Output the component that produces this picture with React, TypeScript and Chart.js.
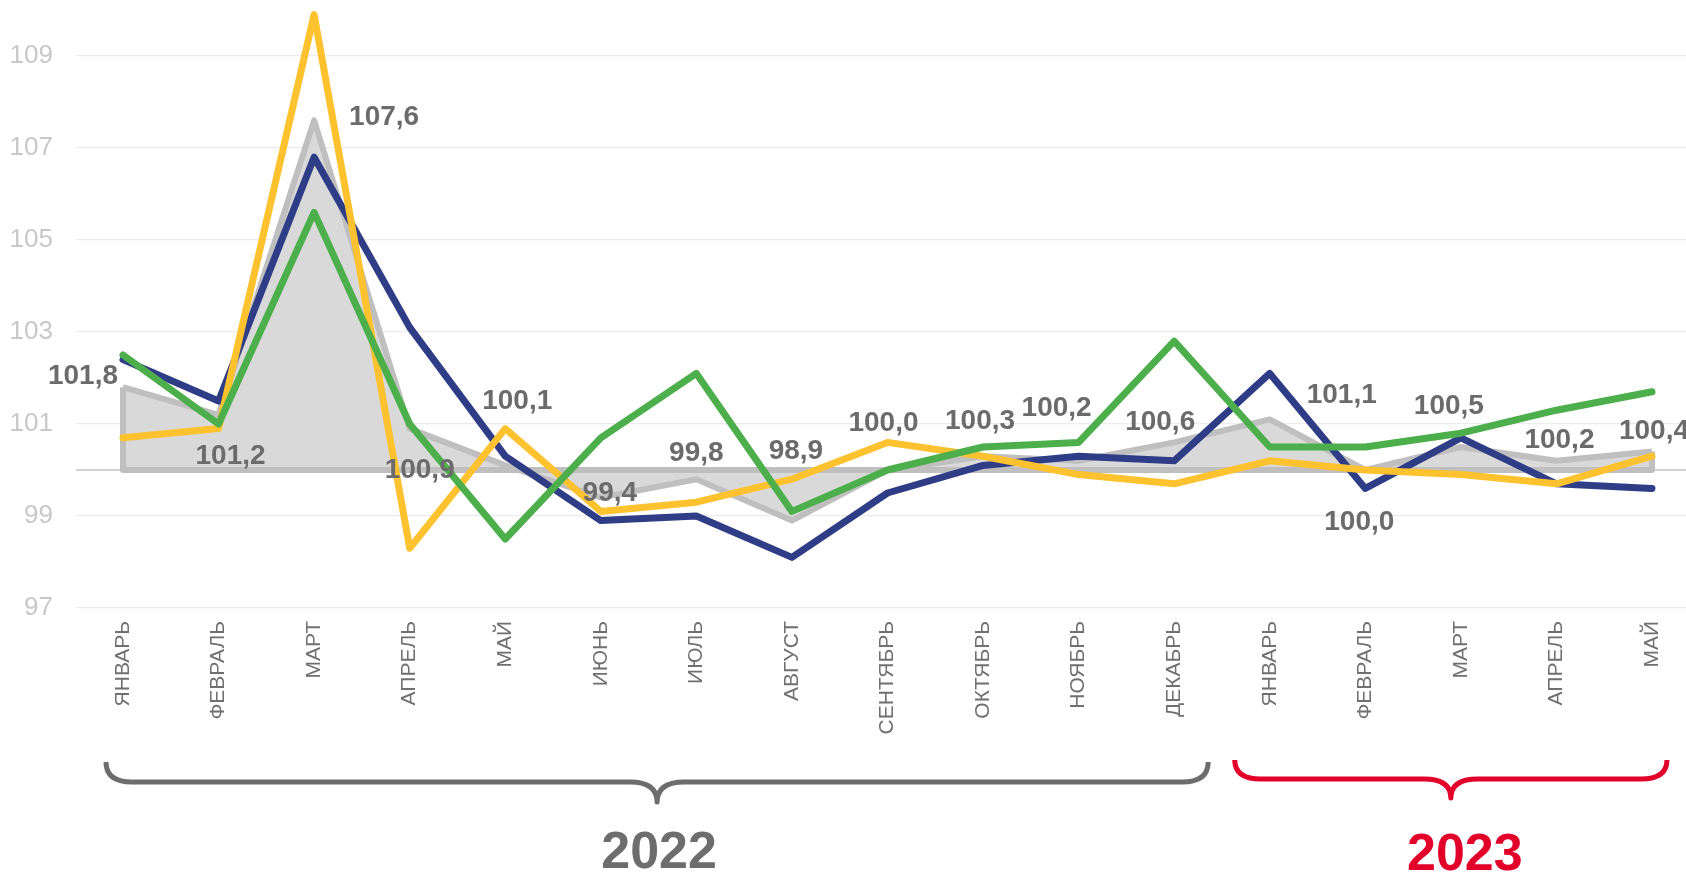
import React, { useEffect, useRef } from "react";
import { Chart, registerables } from "chart.js";

Chart.register(...registerables);

const months = [
  "ЯНВАРЬ", "ФЕВРАЛЬ", "МАРТ", "АПРЕЛЬ", "МАЙ", "ИЮНЬ", "ИЮЛЬ", "АВГУСТ",
  "СЕНТЯБРЬ", "ОКТЯБРЬ", "НОЯБРЬ", "ДЕКАБРЬ",
  "ЯНВАРЬ", "ФЕВРАЛЬ", "МАРТ", "АПРЕЛЬ", "МАЙ",
];

const grayValues = [101.8, 101.2, 107.6, 100.9, 100.1, 99.4, 99.8, 98.9, 100.0, 100.3, 100.2, 100.6, 101.1, 100.0, 100.5, 100.2, 100.4];
const navyValues = [102.4, 101.5, 106.8, 103.1, 100.3, 98.9, 99.0, 98.1, 99.5, 100.1, 100.3, 100.2, 102.1, 99.6, 100.7, 99.7, 99.6];
const yellowValues = [100.7, 100.9, 109.9, 98.3, 100.9, 99.1, 99.3, 99.8, 100.6, 100.3, 99.9, 99.7, 100.2, 100.0, 99.9, 99.7, 100.3];
const greenValues = [102.5, 101.0, 105.6, 101.0, 98.5, 100.7, 102.1, 99.1, 100.0, 100.5, 100.6, 102.8, 100.5, 100.5, 100.8, 101.3, 101.7];

const yTicks = [97, 99, 100, 101, 103, 105, 107, 109];
const baseValue = 100;

const years = [
  { label: "2022", from: 0, to: 11, color: "#6d6d6d" },
  { label: "2023", from: 12, to: 16, color: "#e2002b" },
];

// label placement offsets (px) of the value labels relative to the points
const labelOffsets: [number, number][] = [
  [-40, -13], [12, 39], [70, -5], [10, 39], [12, -66], [9, -7], [0, -28], [4, -72],
  [-4, -49], [-3, -37], [-22, -55], [-14, -22], [72, -26], [-6, 50], [-12, -43], [3, -23], [2, -23],
];

const W = 1686;
const H = 873;

const toXY = (arr: number[]) => arr.map((v, i) => ({ x: i, y: v }));

function drawBrace(ctx: CanvasRenderingContext2D, x1: number, x2: number, yTop: number, yLine: number, yTip: number, color: string) {
  const xm = (x1 + x2) / 2;
  const r = 26;
  const w = 27;
  ctx.save();
  ctx.strokeStyle = color;
  ctx.lineWidth = 5;
  ctx.lineJoin = "round";
  ctx.lineCap = "butt";
  ctx.beginPath();
  ctx.moveTo(x1, yTop);
  ctx.quadraticCurveTo(x1, yLine, x1 + r, yLine);
  ctx.lineTo(xm - w, yLine);
  ctx.quadraticCurveTo(xm, yLine, xm, yTip);
  ctx.quadraticCurveTo(xm, yLine, xm + w, yLine);
  ctx.lineTo(x2 - r, yLine);
  ctx.quadraticCurveTo(x2, yLine, x2, yTop);
  ctx.stroke();
  ctx.restore();
}

const areaBorderPlugin = {
  id: "areaBorder",
  afterDatasetDraw(chart: any, args: any) {
    if (args.index !== 0) return;
    const { ctx } = chart;
    const xs = chart.scales.x;
    const ys = chart.scales.y;
    const x0 = xs.getPixelForValue(0);
    const x1 = xs.getPixelForValue(grayValues.length - 1);
    const yb = ys.getPixelForValue(baseValue);
    ctx.save();
    ctx.strokeStyle = "#bfbfbf";
    ctx.lineWidth = 6;
    ctx.lineJoin = "round";
    ctx.beginPath();
    ctx.moveTo(x0, ys.getPixelForValue(grayValues[0]));
    ctx.lineTo(x0, yb);
    ctx.lineTo(x1, yb);
    ctx.lineTo(x1, ys.getPixelForValue(grayValues[grayValues.length - 1]));
    ctx.stroke();
    ctx.restore();
  },
};

const labelsPlugin = {
  id: "valueLabels",
  afterDatasetsDraw(chart: any) {
    const { ctx } = chart;
    const meta = chart.getDatasetMeta(0);
    ctx.save();
    ctx.font = "bold 28px 'Liberation Sans', Arial, sans-serif";
    ctx.fillStyle = "#6b6b6b";
    ctx.textAlign = "center";
    ctx.textBaseline = "alphabetic";
    meta.data.forEach((pt: any, i: number) => {
      const [dx, dy] = labelOffsets[i];
      const txt = grayValues[i].toFixed(1).replace(".", ",");
      ctx.fillText(txt, pt.x + dx, pt.y + dy + 10);
    });
    ctx.restore();
  },
  afterDraw(chart: any) {
    const { ctx } = chart;
    const xs = chart.scales.x;
    years.forEach((yr, k) => {
      const a = xs.getPixelForValue(yr.from);
      const b = xs.getPixelForValue(yr.to);
      const x1 = k === 0 ? a - 17 : a - 35;
      const x2 = k === 0 ? b + 34 : b + 15;
      const yTop = k === 0 ? 762 : 760;
      const yLine = k === 0 ? 782 : 779;
      const yTip = k === 0 ? 802 : 798;
      drawBrace(ctx, x1, x2, yTop, yLine, yTip, yr.color);
      ctx.save();
      ctx.font = "bold 52px 'Liberation Sans', Arial, sans-serif";
      ctx.fillStyle = yr.color;
      ctx.textAlign = "center";
      ctx.textBaseline = "alphabetic";
      const xm = (x1 + x2) / 2 + (k === 0 ? 2 : 14);
      ctx.fillText(yr.label, xm, k === 0 ? 868 : 870);
      ctx.restore();
    });
  },
};

export default function App() {
  const ref = useRef<HTMLCanvasElement | null>(null);

  useEffect(() => {
    if (!ref.current) return;
    const chart = new Chart(ref.current, {
      type: "line",
      data: {
        datasets: [
          {
            label: "gray",
            data: toXY(grayValues),
            borderColor: "#bfbfbf",
            backgroundColor: "#d9d9d9",
            borderWidth: 6,
            fill: { value: baseValue },
            pointRadius: 0,
            borderJoinStyle: "round",
            order: 3,
          },
          {
            label: "navy",
            data: toXY(navyValues),
            borderColor: "#2f3d86",
            borderWidth: 7,
            fill: false,
            pointRadius: 0,
            borderJoinStyle: "round",
            borderCapStyle: "round",
            order: 2,
          },
          {
            label: "yellow",
            data: toXY(yellowValues),
            borderColor: "#fdc22e",
            borderWidth: 7,
            fill: false,
            pointRadius: 0,
            borderJoinStyle: "round",
            borderCapStyle: "round",
            order: 1,
          },
          {
            label: "green",
            data: toXY(greenValues),
            borderColor: "#4caf4c",
            borderWidth: 7,
            fill: false,
            pointRadius: 0,
            borderJoinStyle: "round",
            borderCapStyle: "round",
            order: 0,
          },
        ],
      },
      options: {
        animation: false,
        responsive: false,
        devicePixelRatio: 1,
        layout: { padding: { top: 10, right: 0, left: 0, bottom: 0 } },
        plugins: {
          legend: { display: false },
          tooltip: { enabled: false },
        },
        scales: {
          x: {
            type: "linear",
            min: -0.4918,
            max: 16.356,
            grid: { display: false, drawTicks: false },
            border: { display: false },
            afterBuildTicks: (scale: any) => {
              scale.ticks = months.map((_, i) => ({ value: i }));
            },
            afterFit: (scale: any) => {
              scale.height = 265;
              scale.paddingLeft = 0;
              scale.paddingRight = 0;
            },
            ticks: {
              autoSkip: false,
              minRotation: 90,
              maxRotation: 90,
              padding: 13,
              color: "#707070",
              font: { family: "'Liberation Sans', Arial, sans-serif", size: 21 },
              callback: (v: any) => months[v] ?? "",
            },
          },
          y: {
            type: "linear",
            min: 97,
            max: 110,
            grid: {
              drawTicks: false,
              color: (c: any) => (c.tick && c.tick.value === baseValue ? "#d2d2d2" : "#ececec"),
              lineWidth: (c: any) => (c.tick && c.tick.value === baseValue ? 2 : 1.2),
            },
            border: { display: false },
            afterBuildTicks: (scale: any) => {
              scale.ticks = yTicks.map((v) => ({ value: v }));
            },
            afterFit: (scale: any) => {
              scale.width = 76;
              scale.paddingTop = 0;
              scale.paddingBottom = 0;
            },
            ticks: {
              padding: 23,
              color: "#c8c8c8",
              font: { family: "'Liberation Sans Narrow', 'Liberation Sans', Arial, sans-serif", size: 26 },
              callback: (v: any) => (v === baseValue ? "" : String(v)),
            },
          },
        },
      },
      plugins: [areaBorderPlugin, labelsPlugin],
    } as any);
    return () => chart.destroy();
  }, []);

  return (
    <div style={{ position: "absolute", left: 0, top: 0, width: W, height: H, background: "#fff" }}>
      <canvas ref={ref} width={W} height={H} style={{ width: W, height: H, display: "block" }} />
    </div>
  );
}
